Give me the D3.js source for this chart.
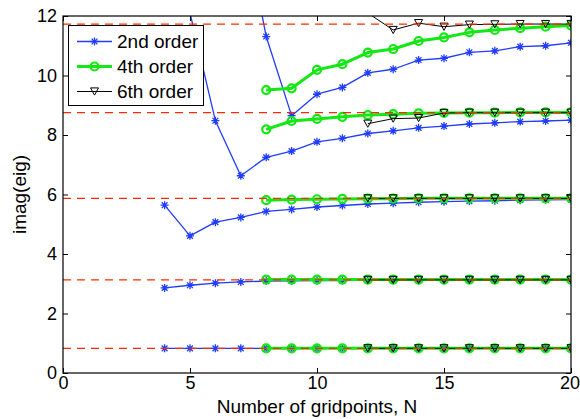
<!DOCTYPE html>
<html>
<head>
<meta charset="utf-8">
<script src="https://cdn.jsdelivr.net/npm/d3@7"></script>
<style>
  html, body { margin: 0; padding: 0; background: #fff; }
  svg { display: block; }
  text { font-family: "Liberation Sans", Arial, Helvetica, sans-serif; fill: #000; }
</style>
</head>
<body>
<svg id="chart" width="580" height="419"></svg>
<script>
// Grid sizes for each scheme
const nSecond = [4, 5, 6, 7, 8, 9, 10, 11, 12, 13, 14, 15, 16, 17, 18, 19, 20];
const nFourth = [8, 9, 10, 11, 12, 13, 14, 15, 16, 17, 18, 19, 20];
const nSixth  = [12, 13, 14, 15, 16, 17, 18, 19, 20];

// imag(eig), one array per eigenvalue branch (null = no value)
const secondOrder = [
  [0.83, 0.83, 0.83, 0.83, 0.83, 0.83, 0.83, 0.83, 0.83, 0.83, 0.83, 0.83, 0.83, 0.83, 0.83, 0.83, 0.83],
  [2.86, 2.95, 3.02, 3.06, 3.09, 3.10, 3.11, 3.11, 3.12, 3.12, 3.12, 3.12, 3.13, 3.13, 3.13, 3.13, 3.13],
  [5.64, 4.61, 5.07, 5.23, 5.43, 5.50, 5.58, 5.63, 5.68, 5.71, 5.74, 5.76, 5.78, 5.79, 5.81, 5.82, 5.83],
  [null, 12.1, 8.48, 6.63, 7.25, 7.46, 7.77, 7.89, 8.05, 8.14, 8.24, 8.30, 8.37, 8.41, 8.45, 8.47, 8.50],
  [null, null, null, 15.7, 11.31, 8.65, 9.37, 9.60, 10.09, 10.21, 10.52, 10.58, 10.78, 10.83, 10.97, 11.00, 11.10]
];
const fourthOrder = [
  [0.83, 0.83, 0.83, 0.83, 0.83, 0.83, 0.83, 0.83, 0.83, 0.83, 0.83, 0.83, 0.83],
  [3.14, 3.14, 3.14, 3.14, 3.14, 3.14, 3.14, 3.14, 3.14, 3.14, 3.14, 3.14, 3.14],
  [5.81, 5.83, 5.84, 5.85, 5.86, 5.86, 5.87, 5.87, 5.87, 5.87, 5.87, 5.87, 5.87],
  [8.19, 8.47, 8.54, 8.61, 8.67, 8.70, 8.73, 8.74, 8.75, 8.75, 8.76, 8.76, 8.76],
  [9.51, 9.57, 10.19, 10.38, 10.77, 10.89, 11.16, 11.28, 11.45, 11.53, 11.59, 11.64, 11.68]
];
const sixthOrder = [
  [0.83, 0.83, 0.83, 0.83, 0.83, 0.83, 0.83, 0.83, 0.83],
  [3.13, 3.13, 3.13, 3.13, 3.13, 3.13, 3.13, 3.13, 3.13],
  [5.87, 5.87, 5.87, 5.87, 5.87, 5.87, 5.87, 5.87, 5.87],
  [8.38, 8.55, 8.57, 8.74, 8.75, 8.75, 8.75, 8.75, 8.75],
  [12.1, 11.53, 11.76, 11.64, 11.71, 11.72, 11.73, 11.73, 11.73]
];

// Exact eigenvalues (reference lines)
const exactValues = [0.83, 3.13, 5.87, 8.75, 11.73];

const legendLabels = ["2nd order", "4th order", "6th order"];
const xTicks = [0, 5, 10, 15, 20];
const yTicks = [0, 2, 4, 6, 8, 10, 12];

const svg = d3.select("#chart");
const box = { left: 63, right: 571, top: 16, bottom: 373 };

const x = d3.scaleLinear().domain([0, 20]).range([box.left, box.right]);
const y = d3.scaleLinear().domain([0, 12]).range([box.bottom, box.top]);

svg.append("defs").append("clipPath").attr("id", "plotclip")
  .append("rect")
  .attr("x", box.left).attr("y", box.top)
  .attr("width", box.right - box.left).attr("height", box.bottom - box.top);

const plot = svg.append("g").attr("clip-path", "url(#plotclip)");

const styles = [
  { ns: nSecond, data: secondOrder, color: "#1f3cff", width: 1.3, marker: "star" },
  { ns: nFourth, data: fourthOrder, color: "#12e812", width: 3, marker: "circle" },
  { ns: nSixth,  data: sixthOrder,  color: "#000000", width: 1, marker: "tri" }
];

function drawMarker(g, kind, cx, cy, color) {
  if (kind === "star") {
    const r = 4;
    const d = r * 0.72;
    g.append("path")
      .attr("d", `M${cx - r},${cy}L${cx + r},${cy}M${cx},${cy - r}L${cx},${cy + r}` +
                 `M${cx - d},${cy - d}L${cx + d},${cy + d}M${cx - d},${cy + d}L${cx + d},${cy - d}`)
      .attr("stroke", color).attr("stroke-width", 1.3).attr("fill", "none");
  } else if (kind === "circle") {
    g.append("circle").attr("cx", cx).attr("cy", cy).attr("r", 4)
      .attr("stroke", color).attr("stroke-width", 2.2).attr("fill", "none");
  } else {
    const w = 4, h = 3.6;
    g.append("path")
      .attr("d", `M${cx - w},${cy - h}L${cx + w},${cy - h}L${cx},${cy + h}Z`)
      .attr("stroke", color).attr("stroke-width", 1).attr("fill", "none");
  }
}

styles.forEach(s => {
  const g = plot.append("g");
  s.data.forEach(branch => {
    const pts = branch.map((v, i) => ({ n: s.ns[i], v }));
    const line = d3.line()
      .defined(d => d.v !== null)
      .x(d => x(d.n)).y(d => y(d.v));
    g.append("path").attr("d", line(pts))
      .attr("fill", "none").attr("stroke", s.color)
      .attr("stroke-width", s.width).attr("stroke-linejoin", "round");
    pts.filter(d => d.v !== null && d.v <= 12).forEach(d => {
      drawMarker(g, s.marker, x(d.n), y(d.v), s.color);
    });
  });
});

// exact eigenvalues as dashed red lines
plot.selectAll("line.exact").data(exactValues).enter().append("line")
  .attr("class", "exact")
  .attr("x1", x(0)).attr("x2", x(20))
  .attr("y1", d => y(d)).attr("y2", d => y(d))
  .attr("stroke", "#ff2a00").attr("stroke-width", 1.2)
  .attr("stroke-dasharray", "8,6");

// axes: box with inward ticks on all four sides
const axes = svg.append("g");
const tickLen = 5;
const tickFont = 18;
const labelFont = 19;

const xAxis = d3.axisBottom(x).tickValues(xTicks).tickSize(-tickLen).tickPadding(3).tickFormat(d3.format("d"));
const yAxis = d3.axisLeft(y).tickValues(yTicks).tickSize(-tickLen).tickPadding(6).tickFormat(d3.format("d"));
const xTop = d3.axisTop(x).tickValues(xTicks).tickSize(-tickLen).tickFormat("");
const yRight = d3.axisRight(y).tickValues(yTicks).tickSize(-tickLen).tickFormat("");

function styleAxis(g) {
  g.select(".domain").remove();
  g.selectAll(".tick line").attr("stroke", "#000").attr("stroke-width", 1);
  g.selectAll(".tick text").attr("font-size", tickFont)
    .attr("font-family", "'Liberation Sans', Arial, Helvetica, sans-serif").attr("fill", "#000");
}

const xg = axes.append("g").attr("transform", `translate(0,${box.bottom})`).call(xAxis).call(styleAxis);
// keep the last tick label inside the window
xg.selectAll(".tick text").filter(d => d === 20).attr("dx", -1.5);
axes.append("g").attr("transform", `translate(${box.left},0)`).call(yAxis).call(styleAxis);
axes.append("g").attr("transform", `translate(0,${box.top})`).call(xTop).call(styleAxis);
axes.append("g").attr("transform", `translate(${box.right},0)`).call(yRight).call(styleAxis);

axes.append("rect")
  .attr("x", box.left).attr("y", box.top)
  .attr("width", box.right - box.left).attr("height", box.bottom - box.top)
  .attr("fill", "none").attr("stroke", "#000").attr("stroke-width", 1.2);

// axis labels
svg.append("text")
  .attr("x", (box.left + box.right) / 2).attr("y", 413)
  .attr("text-anchor", "middle").attr("font-size", labelFont)
  .text("Number of gridpoints, N");

svg.append("text")
  .attr("transform", `translate(26,${(box.top + box.bottom) / 2}) rotate(-90)`)
  .attr("text-anchor", "middle").attr("font-size", labelFont)
  .text("imag(eig)");

// legend
const legend = svg.append("g");
legend.append("rect")
  .attr("x", 68.5).attr("y", 25.5).attr("width", 135).attr("height", 80)
  .attr("fill", "#fff").attr("stroke", "#000").attr("stroke-width", 1);

const legendY = [41.5, 66.5, 91.5];
styles.forEach((s, i) => {
  const ly = legendY[i];
  legend.append("line")
    .attr("x1", 77).attr("x2", 112).attr("y1", ly).attr("y2", ly)
    .attr("stroke", s.color).attr("stroke-width", s.width);
  drawMarker(legend, s.marker, 94.5, ly, s.color);
  legend.append("text")
    .attr("x", 117).attr("y", ly).attr("dy", "0.35em")
    .attr("font-size", labelFont).text(legendLabels[i]);
});
</script>
</body>
</html>
